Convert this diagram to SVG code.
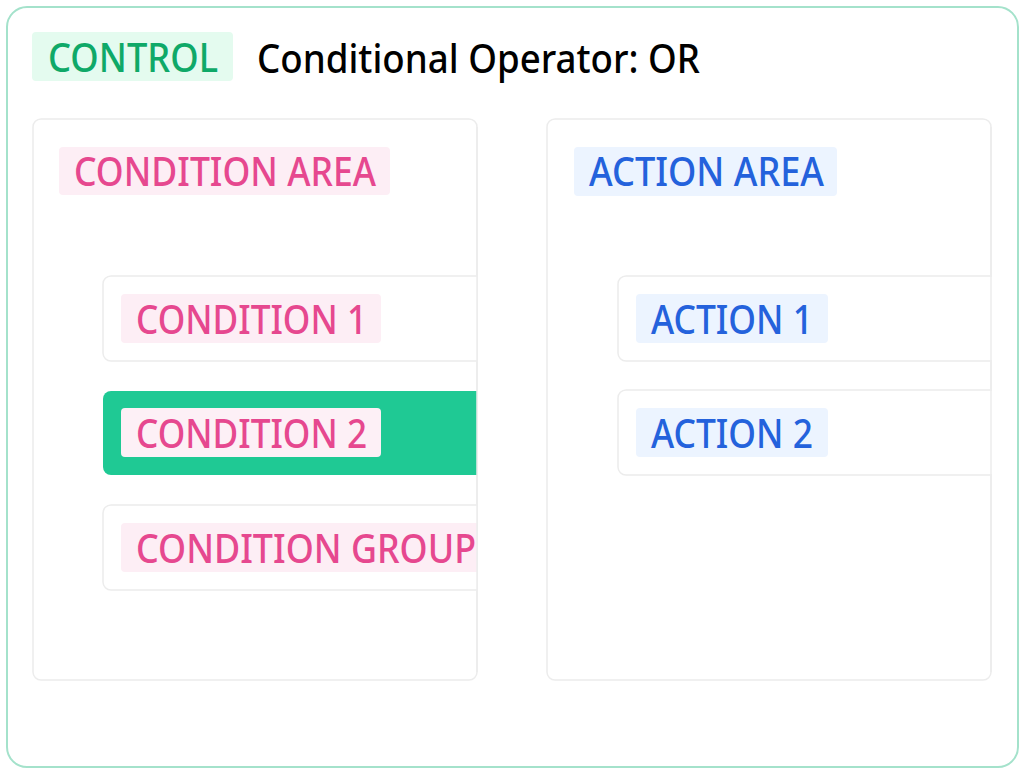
<svg xmlns="http://www.w3.org/2000/svg" width="1024" height="773" viewBox="0 0 1024 773">
<style>
.t{font-family:"Noto Sans","Liberation Sans",sans-serif;font-size:39px;font-weight:500}
.panel{fill:#fff;stroke:#ececec;stroke-width:1.5}
.card{fill:#fff;stroke:#ececec;stroke-width:1.5}
.pinkbg{fill:#fdeef5}
.bluebg{fill:#ecf4ff}
.pink{fill:#e6488f}
.blue{fill:#2462dc}
</style>
<defs>
<clipPath id="clipL"><rect x="20" y="110" width="457" height="580"/></clipPath>
<clipPath id="clipR"><rect x="540" y="110" width="452" height="580"/></clipPath>
</defs>
<rect width="1024" height="773" fill="#fff"/>
<g id="frame">
<rect x="7" y="7" width="1011" height="760" rx="20" fill="#fff" stroke="#a4e2cb" stroke-width="2"/>
</g>
<g id="header">
<rect x="32" y="32" width="201" height="49" rx="4" fill="#e4fbef"/>
<text class="t" x="48" y="72" fill="#0fa968" textLength="170" lengthAdjust="spacingAndGlyphs">CONTROL</text>
<text class="t" x="257" y="73" fill="#000" textLength="443" lengthAdjust="spacingAndGlyphs">Conditional Operator: OR</text>
</g>
<g id="condition-area">
<rect class="panel" x="33" y="119" width="444" height="561" rx="8"/>
<rect class="pinkbg" x="59" y="147" width="331" height="48" rx="4"/>
<text class="t pink" x="74" y="186" textLength="302" lengthAdjust="spacingAndGlyphs">CONDITION AREA</text>
</g>
<g clip-path="url(#clipL)">
<g id="condition-1">
<rect class="card" x="103" y="276" width="420" height="85" rx="8"/>
<rect class="pinkbg" x="121" y="294" width="260" height="49" rx="4"/>
<text class="t pink" x="136" y="334" textLength="231" lengthAdjust="spacingAndGlyphs">CONDITION 1</text>
</g>
<g id="condition-2">
<rect x="103" y="391" width="420" height="84" rx="8" fill="#1fc994"/>
<rect x="121" y="408" width="260" height="49" rx="4" fill="#fdf0f6"/>
<text class="t pink" x="136" y="448" textLength="231" lengthAdjust="spacingAndGlyphs">CONDITION 2</text>
</g>
<g id="condition-group">
<rect class="card" x="103" y="505" width="420" height="85" rx="8"/>
<rect class="pinkbg" x="121" y="523" width="380" height="49" rx="4"/>
<text class="t pink" x="136" y="563" textLength="340" lengthAdjust="spacingAndGlyphs">CONDITION GROUP</text>
</g>
</g>
<line x1="477" y1="127" x2="477" y2="672" stroke="#ececec" stroke-width="1.5"/>
<g id="action-area">
<rect class="panel" x="547" y="119" width="444" height="561" rx="8"/>
<rect class="bluebg" x="574" y="147" width="263" height="49" rx="4"/>
<text class="t blue" x="589" y="186" textLength="235" lengthAdjust="spacingAndGlyphs">ACTION AREA</text>
</g>
<g clip-path="url(#clipR)">
<g id="action-1">
<rect class="card" x="618" y="276" width="420" height="85" rx="8"/>
<rect class="bluebg" x="636" y="294" width="192" height="49" rx="4"/>
<text class="t blue" x="651" y="334" textLength="162" lengthAdjust="spacingAndGlyphs">ACTION 1</text>
</g>
<g id="action-2">
<rect class="card" x="618" y="390" width="420" height="85" rx="8"/>
<rect class="bluebg" x="636" y="408" width="192" height="49" rx="4"/>
<text class="t blue" x="651" y="448" textLength="162" lengthAdjust="spacingAndGlyphs">ACTION 2</text>
</g>
</g>
<line x1="991" y1="127" x2="991" y2="672" stroke="#ececec" stroke-width="1.5"/>
<g id="connectors"/>
</svg>
